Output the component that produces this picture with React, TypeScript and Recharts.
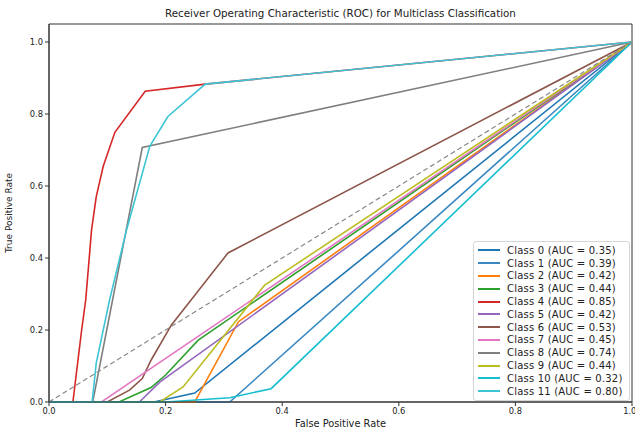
import {
  LineChart,
  Line,
  XAxis,
  YAxis,
  Legend,
  ReferenceArea,
} from 'recharts'

// values (fpr, tpr per class)
const class0Fpr = [0, 0.18, 0.25, 1]
const class0Tpr = [0, 0, 0.025, 1]
const class1Fpr = [0, 0.31, 1]
const class1Tpr = [0, 0, 1]
const class2Fpr = [0, 0.25, 0.325, 1]
const class2Tpr = [0, 0, 0.223, 1]
const class3Fpr = [0, 0.12, 0.175, 0.2, 0.256, 1]
const class3Tpr = [0, 0, 0.04, 0.075, 0.172, 1]
const class4Fpr = [0, 0.041, 0.056, 0.063, 0.073, 0.081, 0.093, 0.113, 0.165, 0.268, 1]
const class4Tpr = [0, 0, 0.2, 0.284, 0.478, 0.57, 0.655, 0.749, 0.863, 0.883, 1]
const class5Fpr = [0, 0.155, 0.19, 1]
const class5Tpr = [0, 0, 0.055, 1]
const class6Fpr = [0, 0.1, 0.138, 0.16, 0.175, 0.21, 0.244, 0.307, 1]
const class6Tpr = [0, 0, 0.033, 0.065, 0.116, 0.214, 0.284, 0.414, 1]
const class7Fpr = [0, 0.09, 1]
const class7Tpr = [0, 0, 1]
const class8Fpr = [0, 0.075, 0.16, 1]
const class8Tpr = [0, 0, 0.707, 1]
const class9Fpr = [0, 0.19, 0.23, 0.37, 1]
const class9Tpr = [0, 0, 0.042, 0.325, 1]
const class10Fpr = [0, 0.2, 0.31, 0.381, 1]
const class10Tpr = [0, 0, 0.012, 0.037, 1]
const class11Fpr = [0, 0.074, 0.081, 0.104, 0.133, 0.173, 0.204, 0.268, 1]
const class11Tpr = [0, 0, 0.108, 0.284, 0.478, 0.711, 0.793, 0.883, 1]

const aucValues = [0.35, 0.39, 0.42, 0.44, 0.85, 0.42, 0.53, 0.45, 0.74, 0.44, 0.32, 0.8]
const classColors = [
  '#1f77b4', '#3a88c2', '#ff7f0e', '#2ca02c', '#d62728', '#9467bd',
  '#8c564b', '#e377c2', '#7f7f7f', '#bcbd22', '#17becf', '#3ec5d5',
]
const fprLists = [class0Fpr, class1Fpr, class2Fpr, class3Fpr, class4Fpr, class5Fpr, class6Fpr, class7Fpr, class8Fpr, class9Fpr, class10Fpr, class11Fpr]
const tprLists = [class0Tpr, class1Tpr, class2Tpr, class3Tpr, class4Tpr, class5Tpr, class6Tpr, class7Tpr, class8Tpr, class9Tpr, class10Tpr, class11Tpr]

const chanceFpr = [0, 1]
const chanceTpr = [0, 1]

const axisTicks = [0, 0.2, 0.4, 0.6, 0.8, 1.0]

const series = fprLists.map((fpr, i) => ({
  name: `Class ${i} (AUC = ${aucValues[i].toFixed(2)})`,
  color: classColors[i],
  data: fpr.map((x, j) => ({ x, y: tprLists[i][j] })),
}))
const seriesNames = series.map((s) => s.name)
const chanceData = chanceFpr.map((x, j) => ({ x, y: chanceTpr[j] }))

const font = '"DejaVu Sans", sans-serif'

function RocLegend({ payload }: { payload?: { value: string; color: string }[] }) {
  // keep the plotting order, drop the chance line
  const items = (payload ?? [])
    .filter((p) => seriesNames.includes(p.value))
    .sort((a, b) => seriesNames.indexOf(a.value) - seriesNames.indexOf(b.value))
  return (
    <div
      style={{
        border: '1px solid #d6d6d6',
        borderRadius: 3,
        background: 'rgba(255,255,255,0.8)',
        padding: '2px 4px 2px 4px',
        fontFamily: font,
        fontSize: 10,
        letterSpacing: 0.2,
        color: '#222',
      }}
    >
      {items.map((p) => (
        <div key={p.value} style={{ display: 'flex', alignItems: 'center', height: 12.8, whiteSpace: 'nowrap' }}>
          <span style={{ display: 'inline-block', width: 22, height: 2, background: p.color, marginRight: 7, flexShrink: 0 }} />
          <span>{p.value}</span>
        </div>
      ))}
    </div>
  )
}

export default function App() {
  return (
    <div style={{ position: 'absolute', left: 0, top: 0, width: 635, height: 430, background: '#fff' }}>
      <div
        style={{
          position: 'absolute',
          top: 7,
          left: 49,
          width: 583,
          textAlign: 'center',
          fontFamily: font,
          fontSize: 10.3,
          color: '#222',
        }}
      >
        Receiver Operating Characteristic (ROC) for Multiclass Classification
      </div>
      <LineChart width={635} height={430} margin={{ top: 24, right: 3, bottom: 0, left: 0 }}>
        <XAxis
          type="number"
          dataKey="x"
          domain={[0, 1]}
          ticks={axisTicks}
          tickFormatter={(v: number) => v.toFixed(1)}
          allowDuplicatedCategory={false}
          height={28}
          tickSize={4}
          tick={{ fontSize: 8.3, fill: '#222', fontFamily: font }}
          stroke="#333"
          label={{ value: 'False Positive Rate', position: 'insideBottom', offset: 3, fontSize: 9.8, fill: '#222', fontFamily: font }}
        />
        <YAxis
          type="number"
          dataKey="y"
          domain={[0, 1.05]}
          ticks={axisTicks}
          tickFormatter={(v: number) => v.toFixed(1)}
          width={49}
          tickSize={4}
          tick={{ fontSize: 8.3, fill: '#222', fontFamily: font }}
          stroke="#333"
          label={{ value: 'True Positive Rate', angle: -90, position: 'insideLeft', offset: 9, fontSize: 9, fill: '#222', fontFamily: font, style: { textAnchor: 'middle' } }}
        />
        <ReferenceArea x1={0} x2={1} y1={0} y2={1.05} fill="none" stroke="#333" strokeWidth={1} ifOverflow="visible" />
        {series.map((s) => (
          <Line
            key={s.name}
            data={s.data}
            dataKey="y"
            name={s.name}
            stroke={s.color}
            strokeWidth={1.6}
            dot={false}
            type="linear"
            isAnimationActive={false}
          />
        ))}
        <Line
          data={chanceData}
          dataKey="y"
          name="chance"
          stroke="#888"
          strokeWidth={1.2}
          strokeDasharray="5 3"
          dot={false}
          legendType="none"
          isAnimationActive={false}
        />
        <Legend
          layout="vertical"
          align="center"
          verticalAlign="middle"
          wrapperStyle={{ position: 'absolute', left: 473, top: 241, width: 157, height: 'auto' }}
          content={(props: any) => <RocLegend payload={props.payload} />}
        />
      </LineChart>
    </div>
  )
}
